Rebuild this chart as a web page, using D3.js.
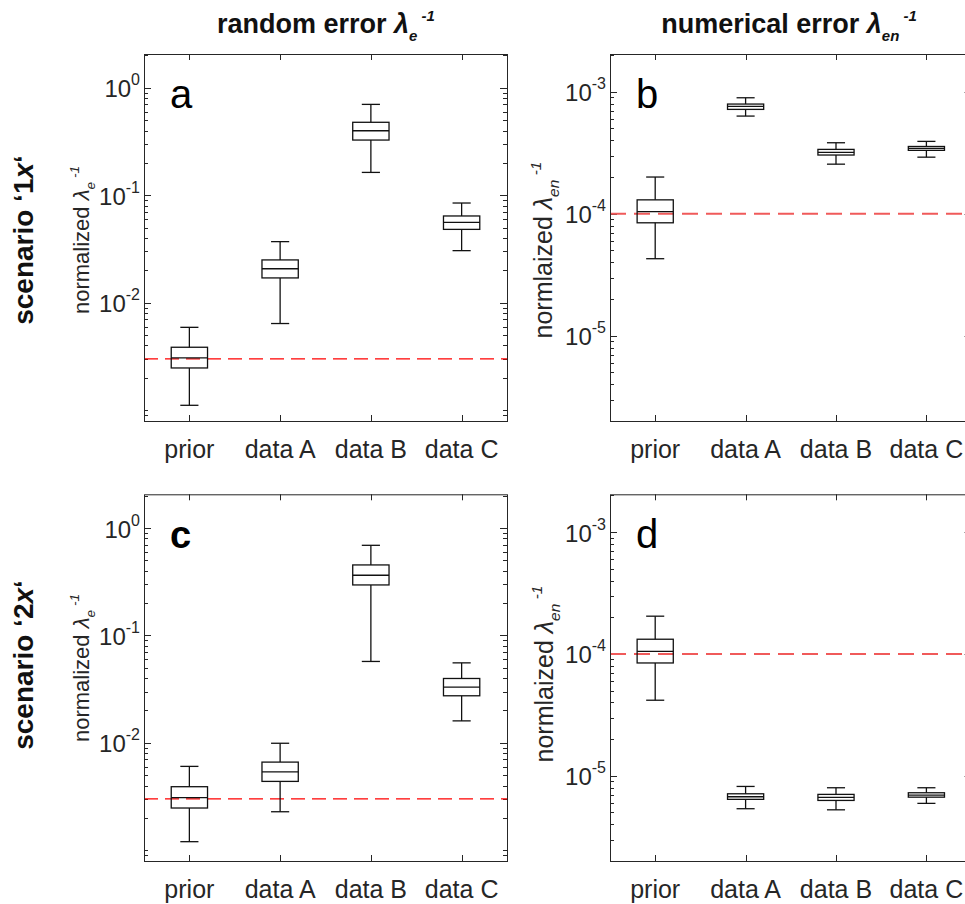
<!DOCTYPE html>
<html>
<head>
<meta charset="utf-8">
<script src="https://cdn.jsdelivr.net/npm/d3@7"></script>
<style>
  html, body { margin: 0; padding: 0; background: #fff; }
  svg { display: block; font-family: "Liberation Sans", Arial, sans-serif; }
</style>
</head>
<body>
<svg id="chart" width="965" height="904"></svg>
<script>
// Categories on every x axis
const categories = ["prior", "data A", "data B", "data C"];

// Box statistics per panel: [whiskerLow, q1, median, q3, whiskerHigh]
const statsA = [
  [1.11e-3, 2.47e-3, 3.06e-3, 3.85e-3, 5.9e-3],
  [6.4e-3, 0.0170, 0.0207, 0.0250, 0.037],
  [0.163, 0.326, 0.398, 0.477, 0.70],
  [0.0305, 0.0481, 0.0560, 0.0641, 0.0846]
];
const statsB = [
  [4.28e-5, 8.43e-5, 1.04e-4, 1.30e-4, 2.0e-4],
  [6.32e-4, 7.17e-4, 7.59e-4, 7.93e-4, 8.93e-4],
  [2.55e-4, 3.03e-4, 3.19e-4, 3.37e-4, 3.82e-4],
  [2.91e-4, 3.31e-4, 3.43e-4, 3.56e-4, 3.92e-4]
];
const statsC = [
  [1.20e-3, 2.47e-3, 3.08e-3, 3.90e-3, 6.03e-3],
  [2.28e-3, 4.37e-3, 5.37e-3, 6.61e-3, 9.9e-3],
  [0.0572, 0.295, 0.363, 0.453, 0.690],
  [0.0160, 0.0274, 0.0330, 0.0397, 0.0555]
];
const statsD = [
  [4.17e-5, 8.43e-5, 1.05e-4, 1.32e-4, 2.04e-4],
  [5.37e-6, 6.41e-6, 6.73e-6, 7.12e-6, 8.18e-6],
  [5.26e-6, 6.28e-6, 6.65e-6, 7.04e-6, 7.98e-6],
  [5.94e-6, 6.68e-6, 6.95e-6, 7.26e-6, 7.98e-6]
];

// Reference levels (red dashed lines)
const refRandom = 3.0e-3;
const refNumerical = 1.0e-4;

// Axis extents and labelled ticks
const domainRandom = [7.93e-4, 2.06];
const domainNumerical = [2.0e-6, 2.04e-3];
const ticksRandom = [1e-2, 1e-1, 1e0];
const ticksNumerical = [1e-5, 1e-4, 1e-3];

// Titles
const colTitles = [
  [{t: "random error "}, {t: "λ", it: true}, {t: "e", it: true, sub: true}, {t: " -1", it: true, sup: true}],
  [{t: "numerical error "}, {t: "λ", it: true}, {t: "en", it: true, sub: true}, {t: " -1", it: true, sup: true}]
];

const svg = d3.select("#chart");
const ink = "#262626";

// Write a run of rich text pieces (italic / sub / sup) into a text element
function richText(sel, parts, base, subSize) {
  let shift = 0;
  parts.forEach(p => {
    const ts = sel.append("tspan").text(p.t);
    let target = 0;
    if (p.sub) target = base * 0.28;
    if (p.sup) target = -base * 0.45;
    ts.attr("dy", target - shift);
    shift = target;
    if (p.sub || p.sup) ts.attr("font-size", subSize);
    if (p.it) ts.attr("font-style", "italic");
  });
}

function panel(cfg) {
  const { x0, x1, y0, y1, domain, ticks, stats, ref, refStyle, letter, letterBold, ylab, ylabSize, ylabX, ylabY } = cfg;
  const g = svg.append("g");
  const x = d3.scaleLinear().domain([0.5, categories.length + 0.5]).range([x0, x1]);
  const y = d3.scaleLog().domain(domain).range([y1, y0]);
  const step = x(2) - x(1);
  const boxW = step * 0.4;
  const capW = boxW / 2;

  // minor + major ticks on left and right edges (pointing inward)
  const lo = Math.floor(Math.log10(domain[0])), hi = Math.ceil(Math.log10(domain[1]));
  const minor = [];
  for (let e = lo; e <= hi; e++) {
    for (let m = 1; m <= 9; m++) {
      const v = m * Math.pow(10, e);
      if (v >= domain[0] && v <= domain[1]) minor.push({ v, major: m === 1 && ticks.includes(v) });
    }
  }
  const tickG = g.append("g").attr("stroke", ink).attr("stroke-width", 1);
  minor.forEach(d => {
    const len = d.major ? 7 : 4;
    const yy = Math.round(y(d.v)) + 0.5;
    tickG.append("line").attr("x1", x0).attr("x2", x0 + len).attr("y1", yy).attr("y2", yy);
    tickG.append("line").attr("x1", x1).attr("x2", x1 - len).attr("y1", yy).attr("y2", yy);
  });
  // category ticks on top and bottom
  categories.forEach((c, i) => {
    const xx = Math.round(x(i + 1)) + 0.5;
    tickG.append("line").attr("x1", xx).attr("x2", xx).attr("y1", y1).attr("y2", y1 - 6);
    tickG.append("line").attr("x1", xx).attr("x2", xx).attr("y1", y0).attr("y2", y0 + 6);
  });

  // reference line
  g.append("line")
    .attr("x1", x0).attr("x2", x1)
    .attr("y1", y(ref)).attr("y2", y(ref))
    .attr("stroke", refStyle.color)
    .attr("stroke-width", refStyle.width)
    .attr("stroke-dasharray", refStyle.dash);

  // boxes
  const bg = g.append("g").attr("stroke", "#111").attr("stroke-width", 1.3).attr("fill", "none");
  stats.forEach((s, i) => {
    const cx = x(i + 1);
    const [wl, q1, md, q3, wh] = s;
    bg.append("line").attr("x1", cx).attr("x2", cx).attr("y1", y(q3)).attr("y2", y(wh));
    bg.append("line").attr("x1", cx).attr("x2", cx).attr("y1", y(q1)).attr("y2", y(wl));
    bg.append("line").attr("x1", cx - capW / 2).attr("x2", cx + capW / 2).attr("y1", y(wh)).attr("y2", y(wh));
    bg.append("line").attr("x1", cx - capW / 2).attr("x2", cx + capW / 2).attr("y1", y(wl)).attr("y2", y(wl));
    bg.append("rect").attr("x", cx - boxW / 2).attr("y", y(q3)).attr("width", boxW).attr("height", y(q1) - y(q3));
    bg.append("line").attr("x1", cx - boxW / 2).attr("x2", cx + boxW / 2).attr("y1", y(md)).attr("y2", y(md));
  });

  // frame
  g.append("rect").attr("x", x0 + 0.5).attr("y", y0 + 0.5)
    .attr("width", x1 - x0).attr("height", y1 - y0)
    .attr("fill", "none").attr("stroke", ink).attr("stroke-width", 1);

  // y tick labels 10^k
  ticks.forEach(v => {
    const k = Math.round(Math.log10(v));
    const t = g.append("text").attr("x", x0 - 4).attr("y", y(v) + 9.5)
      .attr("text-anchor", "end").attr("font-size", 24).attr("fill", ink);
    t.append("tspan").text("10");
    t.append("tspan").text(String(k)).attr("font-size", 16).attr("dy", -12);
  });

  // x tick labels
  categories.forEach((c, i) => {
    g.append("text").attr("x", x(i + 1)).attr("y", y1 + 37)
      .attr("text-anchor", "middle").attr("font-size", 25).attr("fill", ink).text(c);
  });

  // panel letter
  g.append("text").attr("x", x0 + 26).attr("y", y0 + 54)
    .attr("font-size", letterBold ? 38 : 40).attr("font-weight", letterBold ? "bold" : "normal")
    .attr("fill", "#000").text(letter);

  // y label
  const yl = g.append("text")
    .attr("transform", `translate(${ylabX},${ylabY}) rotate(-90)`)
    .attr("text-anchor", "middle").attr("font-size", ylabSize).attr("fill", ink);
  richText(yl, ylab, ylabSize, ylabSize * 0.62);
}

const redThin = { color: "#ff0000", width: 1.3, dash: "14,7" };
const redSoft = { color: "#f05a5a", width: 2, dash: "16,8" };

const ylabRandom = [{t: "normalized "}, {t: "λ", it: true}, {t: "e", it: true, sub: true}, {t: " -1", it: true, sup: true}];
const ylabNumerical = [{t: "normlaized "}, {t: "λ", it: true}, {t: "en", it: true, sub: true}, {t: " -1", it: true, sup: true}];

panel({ x0: 144, x1: 507, y0: 54, y1: 421, domain: domainRandom, ticks: ticksRandom, stats: statsA,
  ref: refRandom, refStyle: redThin, letter: "a", letterBold: false,
  ylab: ylabRandom, ylabSize: 22, ylabX: 89, ylabY: 240 });
panel({ x0: 610, x1: 971.6, y0: 54, y1: 421, domain: domainNumerical, ticks: ticksNumerical, stats: statsB,
  ref: refNumerical, refStyle: redSoft, letter: "b", letterBold: false,
  ylab: ylabNumerical, ylabSize: 25, ylabX: 552, ylabY: 250 });
panel({ x0: 144, x1: 507, y0: 494.3, y1: 861, domain: domainRandom, ticks: ticksRandom, stats: statsC,
  ref: refRandom, refStyle: redThin, letter: "c", letterBold: true,
  ylab: ylabRandom, ylabSize: 22, ylabX: 89, ylabY: 668 });
panel({ x0: 610, x1: 971.6, y0: 494.3, y1: 861, domain: domainNumerical, ticks: ticksNumerical, stats: statsD,
  ref: refNumerical, refStyle: redSoft, letter: "d", letterBold: false,
  ylab: ylabNumerical, ylabSize: 25, ylabX: 553, ylabY: 674 });

// column titles
[[326, colTitles[0]], [789, colTitles[1]]].forEach(([cx, parts]) => {
  const t = svg.append("text").attr("x", cx).attr("y", 33)
    .attr("text-anchor", "middle").attr("font-size", 27).attr("font-weight", "bold").attr("fill", "#111");
  richText(t, parts, 27, 15);
});

// row titles
[[240, "1"], [665, "2"]].forEach(([cy, n]) => {
  const t = svg.append("text")
    .attr("transform", `translate(33,${cy}) rotate(-90)`)
    .attr("text-anchor", "middle").attr("font-size", 28).attr("font-weight", "bold").attr("fill", "#111");
  t.append("tspan").text("scenario ‘" + n);
  t.append("tspan").text("x").attr("font-style", "italic");
  t.append("tspan").text("‘");
});
</script>
</body>
</html>
